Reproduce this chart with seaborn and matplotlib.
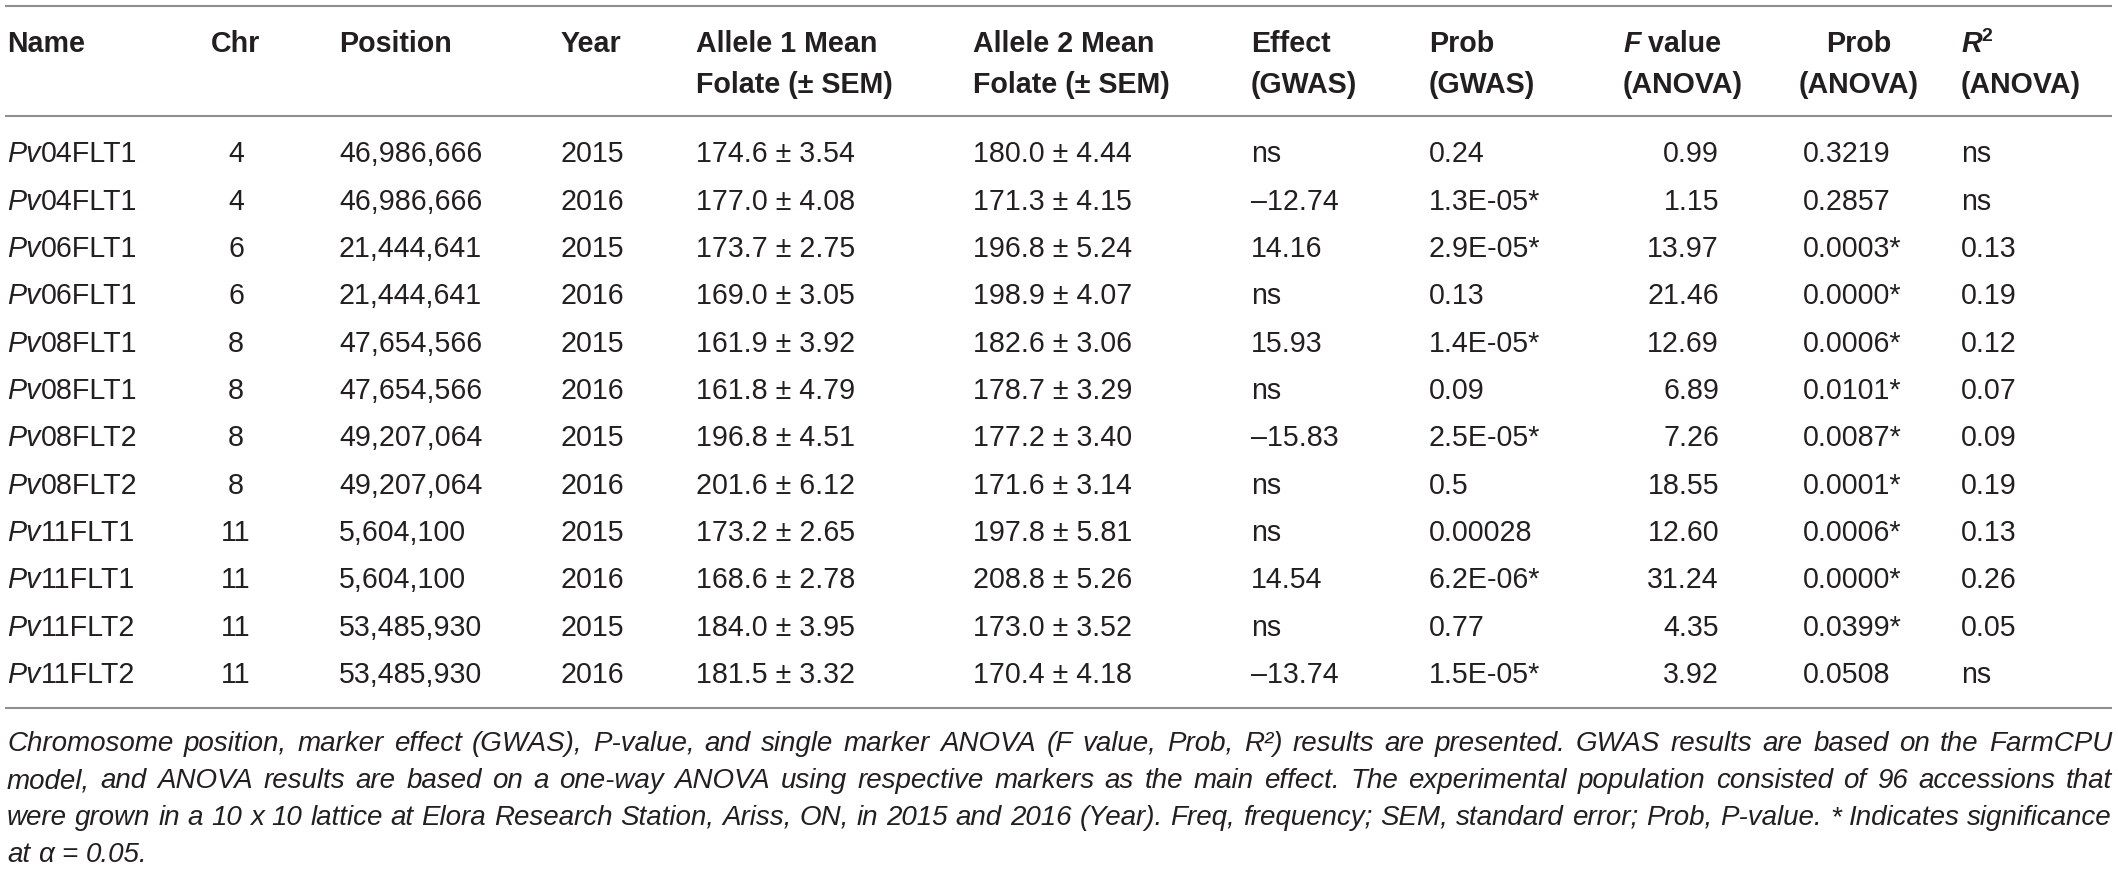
import matplotlib
matplotlib.use("Agg")
import matplotlib.pyplot as plt
import seaborn as sns
import pandas as pd

# ---------------- data ----------------
names = ["Pv04FLT1", "Pv04FLT1", "Pv06FLT1", "Pv06FLT1", "Pv08FLT1", "Pv08FLT1",
         "Pv08FLT2", "Pv08FLT2", "Pv11FLT1", "Pv11FLT1", "Pv11FLT2", "Pv11FLT2"]
chromosomes = [4, 4, 6, 6, 8, 8, 8, 8, 11, 11, 11, 11]
positions = [46986666, 46986666, 21444641, 21444641, 47654566, 47654566,
             49207064, 49207064, 5604100, 5604100, 53485930, 53485930]
years = [2015, 2016, 2015, 2016, 2015, 2016, 2015, 2016, 2015, 2016, 2015, 2016]
allele1_mean = [174.6, 177.0, 173.7, 169.0, 161.9, 161.8, 196.8, 201.6, 173.2, 168.6, 184.0, 181.5]
allele1_sem = [3.54, 4.08, 2.75, 3.05, 3.92, 4.79, 4.51, 6.12, 2.65, 2.78, 3.95, 3.32]
allele2_mean = [180.0, 171.3, 196.8, 198.9, 182.6, 178.7, 177.2, 171.6, 197.8, 208.8, 173.0, 170.4]
allele2_sem = [4.44, 4.15, 5.24, 4.07, 3.06, 3.29, 3.40, 3.14, 5.81, 5.26, 3.52, 4.18]
effect_gwas = [None, -12.74, 14.16, None, 15.93, None, -15.83, None, None, 14.54, None, -13.74]
prob_gwas = ["0.24", "1.3E-05*", "2.9E-05*", "0.13", "1.4E-05*", "0.09",
             "2.5E-05*", "0.5", "0.00028", "6.2E-06*", "0.77", "1.5E-05*"]
f_value = [0.99, 1.15, 13.97, 21.46, 12.69, 6.89, 7.26, 18.55, 12.60, 31.24, 4.35, 3.92]
prob_anova = ["0.3219", "0.2857", "0.0003*", "0.0000*", "0.0006*", "0.0101*",
              "0.0087*", "0.0001*", "0.0006*", "0.0000*", "0.0399*", "0.0508"]
r2_anova = [None, None, 0.13, 0.19, 0.12, 0.07, 0.09, 0.19, 0.13, 0.26, 0.05, None]

caption_lines = [
    "Chromosome position, marker effect (GWAS), P-value, and single marker ANOVA (F value, Prob, R\u00b2) results are presented. GWAS results are based on the FarmCPU",
    "model, and ANOVA results are based on a one-way ANOVA using respective markers as the main effect. The experimental population consisted of 96 accessions that",
    "were grown in a 10 x 10 lattice at Elora Research Station, Ariss, ON, in 2015 and 2016 (Year). Freq, frequency; SEM, standard error; Prob, P-value. * Indicates significance",
    "at \u03b1 = 0.05.",
]

df = pd.DataFrame({
    "name": names, "chr": chromosomes, "pos": positions, "year": years,
    "a1m": allele1_mean, "a1s": allele1_sem, "a2m": allele2_mean, "a2s": allele2_sem,
    "eff": effect_gwas, "pg": prob_gwas, "f": f_value, "pa": prob_anova, "r2": r2_anova,
})

# ---------------- style ----------------
sns.set_theme(style="white")
plt.rcParams['font.family'] = ['Liberation Sans', 'DejaVu Sans']

W, H = 2118, 869
fig = plt.figure(figsize=(W / 100, H / 100), dpi=100)
ax = fig.add_axes([0, 0, 1, 1])
ax.set_xlim(0, W)
ax.set_ylim(H, 0)
ax.axis('off')
renderer = fig.canvas.get_renderer()

TXT = '#231f20'
RULE = '#8e8e8e'
FS = 20.6  # points (~29 px)


def runs_text(x, y, runs, ha='left', size=FS, color=TXT):
    objs, widths = [], []
    for s, p in runs:
        p = dict(p)
        dy = p.pop('dy', 0.0)
        fs = p.pop('size', size)
        t = ax.text(0, y + dy, s, fontsize=fs, color=color, va='baseline', ha='left', **p)
        objs.append(t)
        widths.append(t.get_window_extent(renderer).width)
    total = sum(widths)
    x0 = x if ha == 'left' else (x - total if ha == 'right' else x - total / 2)
    for t, w in zip(objs, widths):
        t.set_x(x0)
        x0 += w
    return total


B = dict(fontweight='bold')
BI = dict(fontweight='bold', fontstyle='italic')
N = dict()
I = dict(fontstyle='italic')

# ---------------- rules ----------------
rule_x0, rule_x1 = 5, 2112
for yy in (5.5, 116, 708):
    ax.plot([rule_x0, rule_x1], [yy, yy], color=RULE, lw=1.5, solid_capstyle='butt')

# ---------------- header ----------------
h1, h2 = 52, 93
X_NAME, X_CHR, X_POS, X_YEAR = 7, 236, 339, 561
X_A1, X_A2, X_EFF, X_PG = 696, 973, 1251, 1429
X_FH, X_FV, X_PAH, X_PAV, X_R2 = 1623, 1719, 1859, 1803, 1961

runs_text(X_NAME, h1, [("Name", B)])
runs_text(X_CHR, h1, [("Chr", B)], ha='center')
runs_text(X_POS, h1, [("Position", B)])
runs_text(X_YEAR, h1, [("Year", B)])
runs_text(X_A1, h1, [("Allele 1 Mean", B)])
runs_text(X_A1, h2, [("Folate (\u00b1 SEM)", B)])
runs_text(X_A2, h1, [("Allele 2 Mean", B)])
runs_text(X_A2, h2, [("Folate (\u00b1 SEM)", B)])
runs_text(X_EFF, h1, [("Effect", B)])
runs_text(X_EFF, h2, [("(GWAS)", B)])
runs_text(X_PG, h1, [("Prob", B)])
runs_text(X_PG, h2, [("(GWAS)", B)])
runs_text(X_FH, h1, [("F", BI), (" value", B)])
runs_text(X_FH, h2, [("(ANOVA)", B)])
runs_text(X_PAH, h1, [("Prob", B)], ha='center')
runs_text(X_PAH, h2, [("(ANOVA)", B)], ha='center')
runs_text(X_R2, h1, [("R", BI), ("2", dict(fontweight='bold', size=FS * 0.68, dy=-11))])
runs_text(X_R2, h2, [("(ANOVA)", B)])

# ---------------- body ----------------
row0, dy_row = 162.5, 47.3
for i, r in df.iterrows():
    y = row0 + i * dy_row
    runs_text(X_NAME, y, [(r["name"][:2], I), (r["name"][2:], N)])
    runs_text(X_CHR, y, [(str(r["chr"]), N)], ha='center')
    runs_text(X_POS, y, [(f"{r['pos']:,}", N)])
    runs_text(X_YEAR, y, [(str(r["year"]), N)])
    runs_text(X_A1, y, [(f"{r['a1m']:.1f} \u00b1 {r['a1s']:.2f}", N)])
    runs_text(X_A2, y, [(f"{r['a2m']:.1f} \u00b1 {r['a2s']:.2f}", N)])
    e = r["eff"]
    etxt = "ns" if pd.isna(e) else (f"\u2013{abs(e):.2f}" if e < 0 else f"{e:.2f}")
    runs_text(X_EFF, y, [(etxt, N)])
    runs_text(X_PG, y, [(r["pg"], N)])
    runs_text(X_FV, y, [(f"{r['f']:.2f}", N)], ha='right')
    runs_text(X_PAV, y, [(r["pa"], N)])
    rv = r["r2"]
    runs_text(X_R2, y, [("ns" if pd.isna(rv) else f"{rv:.2f}", N)])

# ---------------- caption (justified) ----------------
def width_of(s, fs, **kw):
    t = ax.text(0, 0, s, fontsize=fs, fontstyle='italic', **kw)
    w = t.get_window_extent(renderer).width
    t.remove()
    return w

base = 20.0
sp = width_of("a a", base) - width_of("aa", base)
nat = []
for line in caption_lines[:3]:
    words = line.split(" ")
    nat.append(sum(width_of(w, base) for w in words) + sp * (len(words) - 1))
target = rule_x1 - 7
cap_fs = min(21.0, base * target / max(nat) * 0.995)

cap_base = [751, 788, 825, 862]
for k, line in enumerate(caption_lines):
    words = line.split(" ")
    ws = [width_of(w, cap_fs) for w in words]
    if k < 3:
        gap = (target - sum(ws)) / (len(words) - 1)
    else:
        gap = sp * cap_fs / base
    x = 7
    for w, wd in zip(words, ws):
        ax.text(x, cap_base[k], w, fontsize=cap_fs, fontstyle='italic', color=TXT,
                va='baseline', ha='left')
        x += wd + gap

fig.savefig("out.png", dpi=100, facecolor='white')
